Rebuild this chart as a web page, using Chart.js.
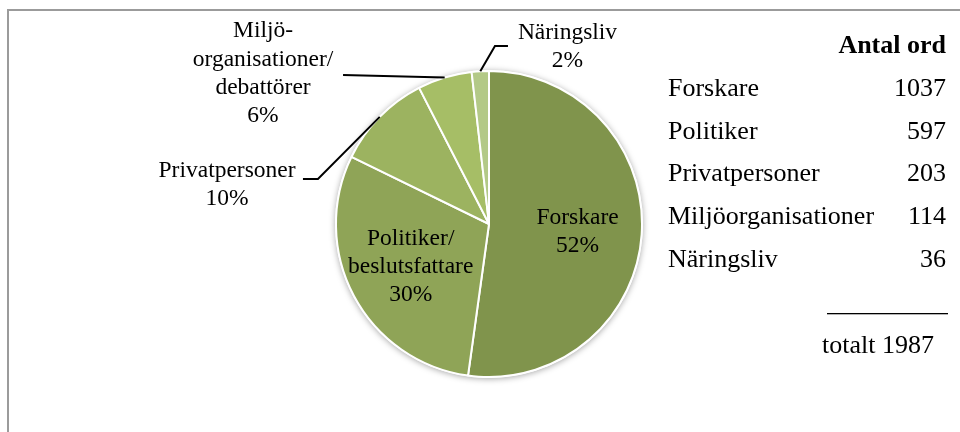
<!DOCTYPE html>
<html>
<head>
<meta charset="utf-8">
<script src="https://cdn.jsdelivr.net/npm/chart.js"></script>
<style>
  html, body { margin: 0; padding: 0; background: #fff; }
  #wrap { position: relative; width: 960px; height: 432px; overflow: hidden; }
  #frame { position: absolute; left: 7px; top: 9px; width: 1000px; height: 500px; border: 2px solid #9b9b9b; }
  #pie-chart { position: absolute; left: 0; top: 0; }
</style>
</head>
<body>
<div id="wrap">
  <div id="frame"></div>
  <canvas id="pie-chart" width="960" height="432"></canvas>
</div>
<script>
const categories = ['Forskare', 'Politiker', 'Privatpersoner', 'Miljöorganisationer', 'Näringsliv'];
const pieLabels = [['Forskare'], ['Politiker/', 'beslutsfattare'], ['Privatpersoner'], ['Miljö-', 'organisationer/', 'debattörer'], ['Näringsliv']];
const wordCounts = [1037, 597, 203, 114, 36];
const colors = ['#80944c', '#8fa457', '#9cb360', '#a6be66', '#b3c987'];
const tableTitle = 'Antal ord';
const totalLabel = 'totalt';

const total = wordCounts.reduce((a, b) => a + b, 0);
const FONT = '"Liberation Serif", "Times New Roman", serif';

// label placement, in units of the pie radius, relative to the centre
const labelLayout = [
    { inside: true, dist: 0.58 },
    { inside: true, dist: 0.58 },
    { text: [-1.712, -0.268], leader: [[-1.118, -0.294], [-1.216, -0.294]] },
    { text: [-1.477, -0.993], leader: [[-0.954, -0.974]] },
    { text: [0.513, -1.167], leader: [[0.039, -1.163], [0.124, -1.163]] }
];

function drawLines(ctx, lines, cx, cy, size, lh) {
    ctx.font = size + 'px ' + FONT;
    ctx.textAlign = 'center';
    ctx.textBaseline = 'alphabetic';
    const top = cy - (lines.length - 1) * lh / 2;
    lines.forEach((t, i) => ctx.fillText(t, cx, top + i * lh + size * 0.33));
}

const shadowPlugin = {
    id: 'pieShadow',
    beforeDatasetsDraw(chart) {
        const arc = chart.getDatasetMeta(0).data[0];
        if (!arc) return;
        const ctx = chart.ctx;
        ctx.save();
        ctx.shadowColor = 'rgba(0,0,0,0.35)';
        ctx.shadowBlur = 6;
        ctx.shadowOffsetY = 1;
        ctx.fillStyle = '#ffffff';
        ctx.beginPath();
        ctx.arc(arc.x, arc.y, arc.outerRadius + 1, 0, Math.PI * 2);
        ctx.fill();
        ctx.restore();
    }
};

const labelPlugin = {
    id: 'pieLabels',
    afterDatasetsDraw(chart) {
        const ctx = chart.ctx;
        const meta = chart.getDatasetMeta(0);
        ctx.save();
        ctx.fillStyle = '#000';
        ctx.strokeStyle = '#000';
        ctx.lineWidth = 2;
        meta.data.forEach((arc, i) => {
            const p = arc.getProps(['x', 'y', 'startAngle', 'endAngle', 'outerRadius'], true);
            const r = p.outerRadius;
            const mid = (p.startAngle + p.endAngle) / 2;
            const pct = Math.round(wordCounts[i] / total * 100) + '%';
            const lines = pieLabels[i].concat([pct]);
            const lay = labelLayout[i];
            if (lay.inside) {
                const cx = p.x + Math.cos(mid) * r * lay.dist;
                const cy = p.y + Math.sin(mid) * r * lay.dist;
                drawLines(ctx, lines, cx, cy, 23.5, 28);
            } else {
                ctx.beginPath();
                ctx.moveTo(p.x + Math.cos(mid) * r, p.y + Math.sin(mid) * r);
                lay.leader.forEach(pt => ctx.lineTo(p.x + pt[0] * r, p.y + pt[1] * r));
                ctx.stroke();
                drawLines(ctx, lines, p.x + lay.text[0] * r, p.y + lay.text[1] * r, 23.5, 28.3);
            }
        });
        ctx.restore();
    }
};

const tablePlugin = {
    id: 'countTable',
    afterDraw(chart) {
        const ctx = chart.ctx;
        const size = 26;
        const left = 668, right = 946;
        ctx.save();
        ctx.fillStyle = '#000';
        ctx.textBaseline = 'alphabetic';
        ctx.font = 'bold ' + size + 'px ' + FONT;
        ctx.textAlign = 'right';
        ctx.fillText(tableTitle, right, 44 + size * 0.33);
        ctx.font = size + 'px ' + FONT;
        categories.forEach((c, i) => {
            const y = 87.5 + i * 42.7 + size * 0.33;
            ctx.textAlign = 'left';
            ctx.fillText(c, left, y);
            ctx.textAlign = 'right';
            ctx.fillText(String(wordCounts[i]), right, y);
        });
        ctx.fillRect(827, 313, 121, 1.3);
        ctx.textAlign = 'center';
        ctx.fillText(totalLabel + ' ' + total, 878, 344 + size * 0.33);
        ctx.restore();
    }
};

new Chart(document.getElementById('pie-chart').getContext('2d'), {
    type: 'pie',
    data: {
        labels: categories,
        datasets: [{
            data: wordCounts,
            backgroundColor: colors,
            borderColor: '#ffffff',
            borderWidth: 2
        }]
    },
    options: {
        responsive: false,
        animation: false,
        layout: { padding: { left: 335, right: 317, top: 70, bottom: 54 } },
        plugins: {
            legend: { display: false },
            tooltip: { enabled: false }
        }
    },
    plugins: [shadowPlugin, labelPlugin, tablePlugin]
});
</script>
</body>
</html>
